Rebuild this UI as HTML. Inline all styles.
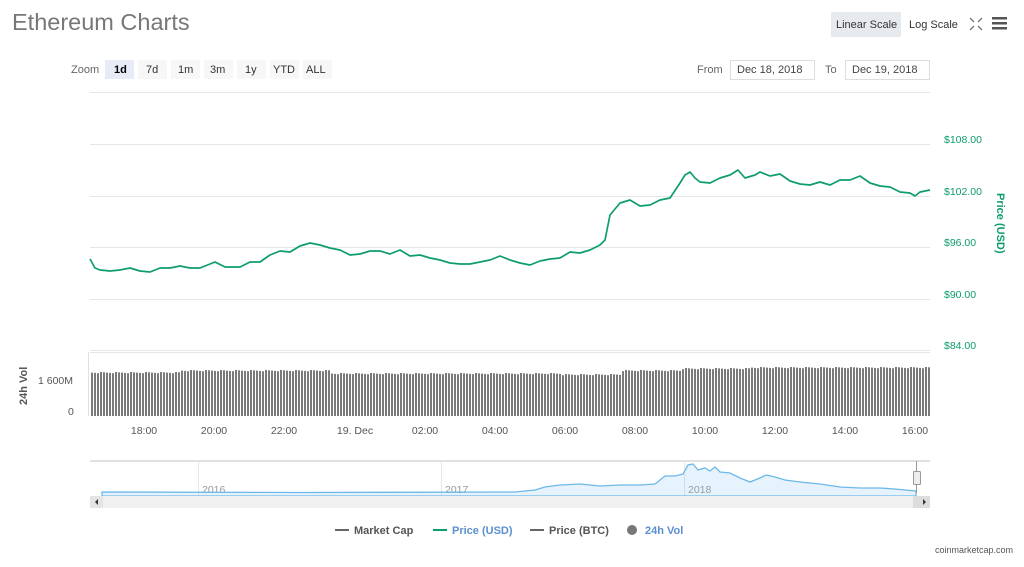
<!DOCTYPE html>
<html><head><meta charset="utf-8"><style>
body{margin:0;background:#fff;width:1024px;height:562px;overflow:hidden;font-family:"Liberation Sans",sans-serif;}
svg text{font-family:"Liberation Sans",sans-serif;}
</style></head><body>
<svg id="s" width="1024" height="562" xmlns="http://www.w3.org/2000/svg">
<text x="12" y="30" font-size="23.5" fill="#777">Ethereum Charts</text>
<rect x="831" y="12" width="70" height="25" fill="#e6e9ed"/>
<text x="836" y="28" font-size="11" fill="#333">Linear Scale</text>
<text x="909" y="28" font-size="11" fill="#333">Log Scale</text>
<g stroke="#777" stroke-width="1.3"><path d="M970 18l4 4M982 18l-4 4M970 30l4-4M982 30l-4-4"/></g>
<g fill="#555"><rect x="992" y="17" width="15" height="2.5"/><rect x="992" y="22" width="15" height="2.5"/><rect x="992" y="27" width="15" height="2.5"/></g>
<text x="71" y="73" font-size="11" fill="#666">Zoom</text>
<rect x="105" y="60" width="29" height="19" fill="#e6ebf5"/><text x="114" y="73" font-size="11" font-weight="bold" fill="#000">1d</text>
<rect x="138" y="60" width="29" height="19" fill="#f7f7f7"/><text x="146" y="73" font-size="11" fill="#333">7d</text>
<rect x="171" y="60" width="29" height="19" fill="#f7f7f7"/><text x="178" y="73" font-size="11" fill="#333">1m</text>
<rect x="204" y="60" width="29" height="19" fill="#f7f7f7"/><text x="210" y="73" font-size="11" fill="#333">3m</text>
<rect x="237" y="60" width="29" height="19" fill="#f7f7f7"/><text x="245" y="73" font-size="11" fill="#333">1y</text>
<rect x="270" y="60" width="29" height="19" fill="#f7f7f7"/><text x="273" y="73" font-size="11" fill="#333">YTD</text>
<rect x="303" y="60" width="29" height="19" fill="#f7f7f7"/><text x="306" y="73" font-size="11" fill="#333">ALL</text>
<text x="697" y="73" font-size="11" fill="#666">From</text>
<rect x="730.5" y="60.5" width="84" height="19" fill="#fff" stroke="#ddd"/><text x="737" y="73" font-size="11" fill="#444">Dec 18, 2018</text>
<text x="825" y="73" font-size="11" fill="#666">To</text>
<rect x="845.5" y="60.5" width="84" height="19" fill="#fff" stroke="#ddd"/><text x="852" y="73" font-size="11" fill="#444">Dec 19, 2018</text>
<g stroke="#e6e6e6" stroke-width="1">
<path d="M90 92.5H930M90 144.5H930M90 196.5H930M90 247.5H930M90 299.5H930M90 350.5H930"/>
</g>
<g font-size="10.5" fill="#0e9d6c">
<text x="944" y="143">$108.00</text><text x="944" y="195">$102.00</text><text x="944" y="246">$96.00</text><text x="944" y="298">$90.00</text><text x="944" y="349">$84.00</text>
</g>
<text transform="translate(997,193) rotate(90)" font-size="11" font-weight="bold" fill="#0e9d6c">Price (USD)</text>
<polyline fill="none" stroke="#0e9d6c" stroke-width="1.7" stroke-linejoin="round" points="90,259 95,268 100,270 110,271 120,270 130,268 140,271 150,272 160,268 170,268 180,266 190,268 200,268 210,264 215,262 225,267 240,267 250,262 260,262 270,255 280,251 290,252 300,246 310,243 320,245 330,248 340,250 350,255 360,254 370,251 380,251 390,254 400,250 410,256 420,255 430,258 440,260 450,263 460,264 470,264 480,262 490,260 500,256 510,260 520,263 530,265 540,261 550,259 560,258 570,252 580,253 590,250 600,245 605,240 610,215 620,203 630,200 640,206 650,205 660,200 670,198 680,183 685,175 690,172 695,178 700,182 710,183 720,178 730,175 738,170 745,178 755,175 760,172 770,176 780,174 790,181 800,184 810,185 820,182 830,185 840,180 850,180 860,176 870,183 880,186 890,187 900,192 910,193 915,196 920,192 930,190"/>
<path d="M88.5 352V416" stroke="#dde" />
<path d="M90 352.5H930" stroke="#e6e6e6"/>
<g id="bars" fill="#7a7a7a"></g>
<text transform="translate(27,405) rotate(-90)" font-size="11" font-weight="bold" fill="#555">24h Vol</text>
<text x="38" y="384" font-size="10.5" fill="#555">1 600M</text>
<text x="68" y="415" font-size="10.5" fill="#555">0</text>
<g font-size="10.5" fill="#555" text-anchor="middle">
<text x="144" y="434">18:00</text><text x="214" y="434">20:00</text><text x="284" y="434">22:00</text><text x="355" y="434">19. Dec</text><text x="425" y="434">02:00</text><text x="495" y="434">04:00</text><text x="565" y="434">06:00</text><text x="635" y="434">08:00</text><text x="705" y="434">10:00</text><text x="775" y="434">12:00</text><text x="845" y="434">14:00</text><text x="915" y="434">16:00</text>
</g>
<path d="M90 461H930" stroke="#e0e0e0" stroke-width="2"/>
<path d="M198.5 461V496M441.5 461V496M684.5 461V496" stroke="#e6e6e6"/>
<g font-size="10.5" fill="#999"><text x="202" y="493">2016</text><text x="445" y="493">2017</text><text x="688" y="493">2018</text></g>
<path id="nav" fill="rgba(120,190,240,0.18)" stroke="#6cb8e8" stroke-width="1.3" d=""/>
<path d="M916.5 461V493" stroke="#999"/>
<rect x="913.5" y="471.5" width="7" height="13" fill="#eee" stroke="#999" rx="1"/>
<rect x="90" y="496" width="840" height="12" fill="#f0f0f0"/>
<rect x="90" y="496" width="13" height="12" fill="#e4e4e4"/><path d="M98 499v6l-3-3z" fill="#333"/>
<rect x="913" y="496" width="17" height="12" fill="#dcdcdc"/><path d="M923 499v6l3-3z" fill="#333"/>
<g font-size="11" font-weight="bold">
<path d="M335 530H349" stroke="#666" stroke-width="2"/><text x="354" y="534" fill="#555">Market Cap</text>
<path d="M433 530H447" stroke="#0e9d6c" stroke-width="2"/><text x="452" y="534" fill="#5b8fd0">Price (USD)</text>
<path d="M530 530H544" stroke="#666" stroke-width="2"/><text x="549" y="534" fill="#555">Price (BTC)</text>
<circle cx="632" cy="530" r="5" fill="#777"/><text x="645" y="534" fill="#5b8fd0">24h Vol</text>
</g>
<text x="935" y="553" font-size="9" fill="#555">coinmarketcap.com</text>
</svg>
<script>
var g=document.getElementById('bars'),h='';
for(var x=91;x<930;x+=3){var t;if(x<180)t=372;else if(x<330)t=370;else if(x<560)t=373;else if(x<620)t=374;else if(x<680)t=370;else if(x<750)t=368;else t=367;t+=((x*7)%5)*0.3;h+='<rect x="'+x+'" y="'+t+'" width="2" height="'+(416-t)+'"/>';}
g.innerHTML=h;
var pts=[[102,492],[300,492.5],[515,492],[535,490],[545,487],[560,485],[580,484],[600,486],[620,485],[640,485],[655,484],[665,476],[675,476],[683,474],[688,465],[693,464],[698,470],[705,468],[710,471],[715,467],[720,472],[730,473],[740,478],[750,482],[760,478],[766,475],[775,477],[785,480],[800,482],[820,484],[840,487],[860,488],[880,488],[895,489],[905,490],[916,491]];
var d='M'+pts.map(function(p){return p[0]+' '+p[1]}).join(' L');
document.getElementById('nav').setAttribute('d',d+' L916 496 L102 496 Z');
</script>
</body></html>
